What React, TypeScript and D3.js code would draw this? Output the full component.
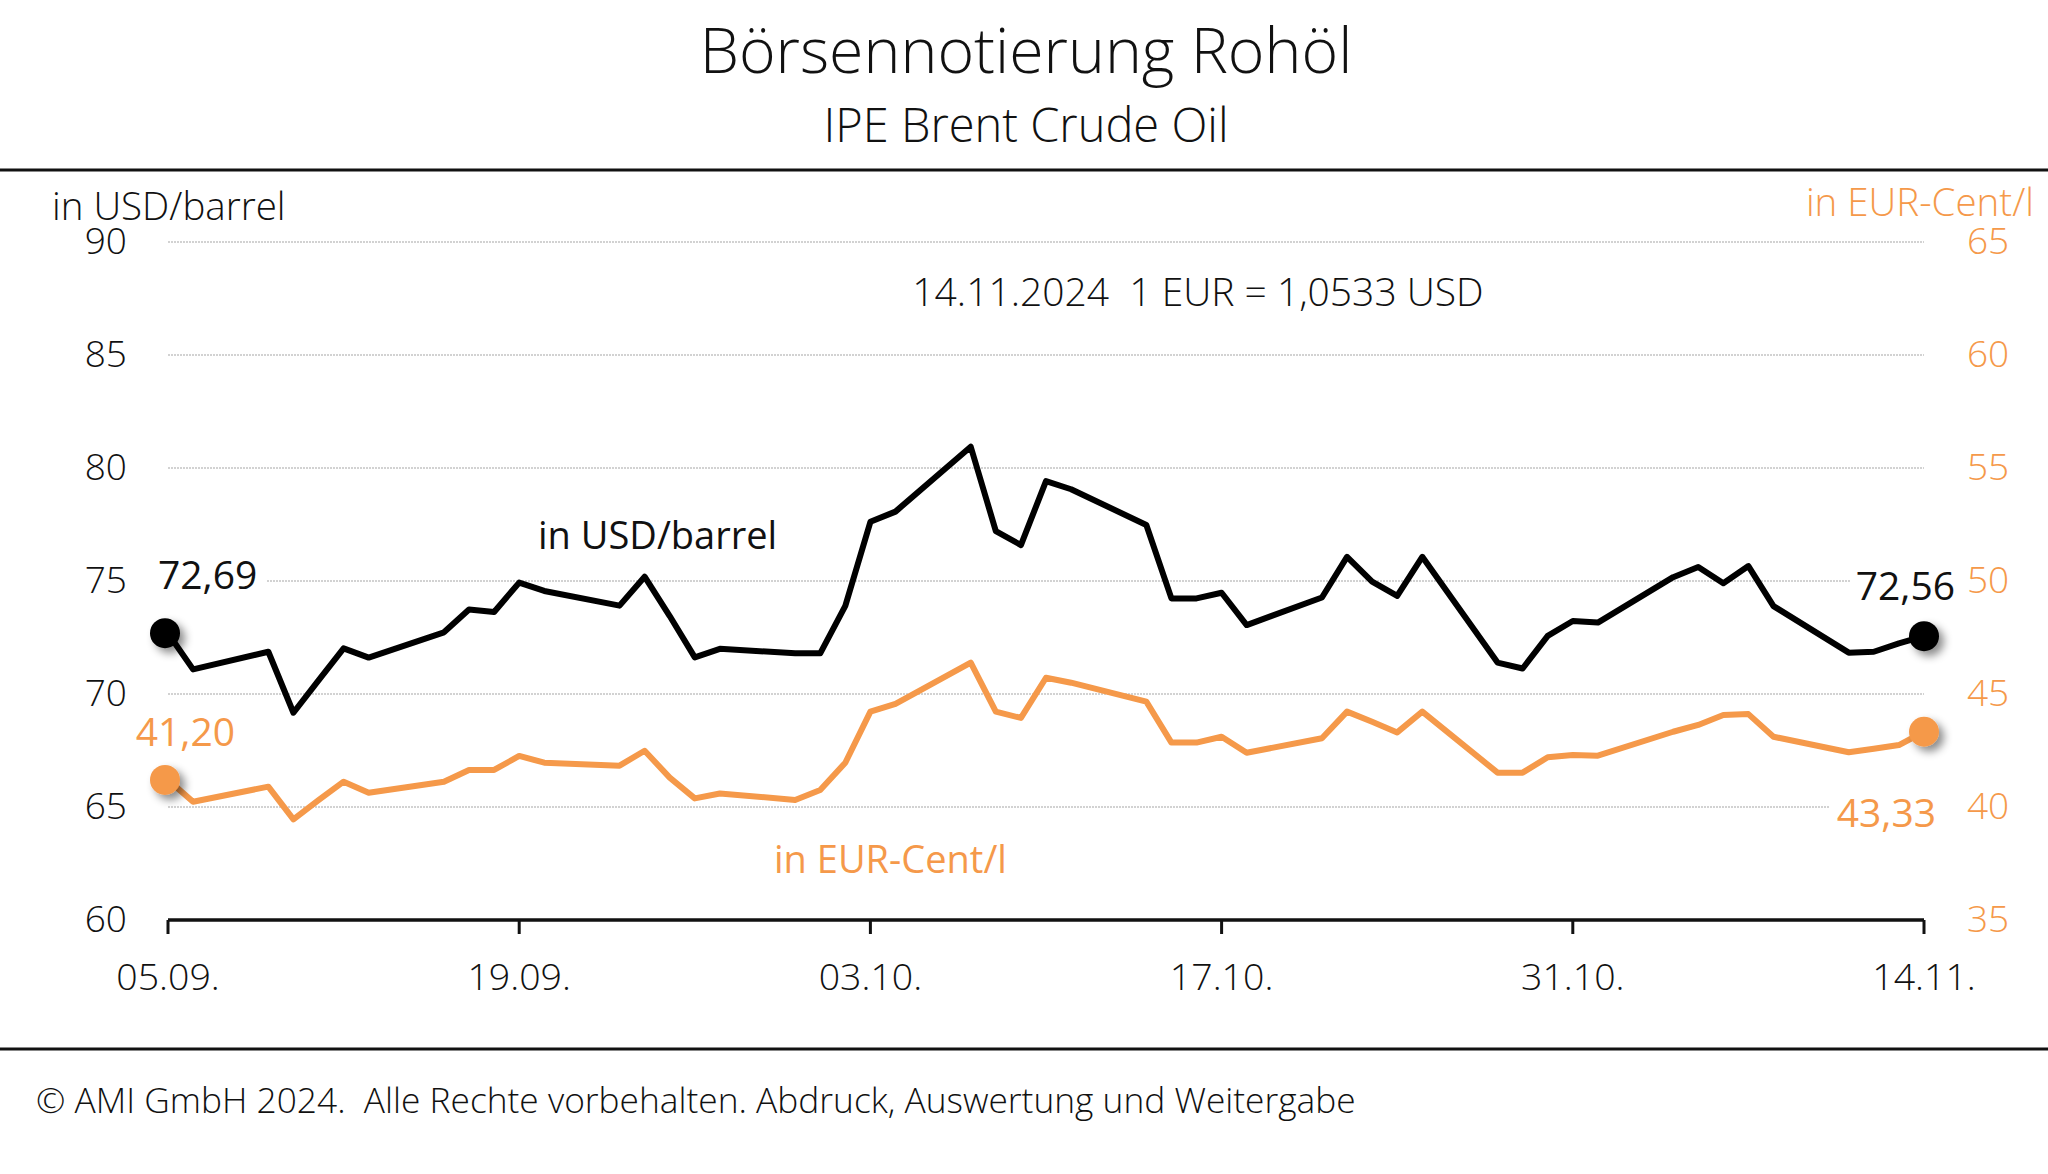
import React from "react";
import * as d3 from "d3";

const dates: string[] = [
  "2024-09-05","2024-09-06","2024-09-09","2024-09-10","2024-09-11","2024-09-12","2024-09-13",
  "2024-09-16","2024-09-17","2024-09-18","2024-09-19","2024-09-20",
  "2024-09-23","2024-09-24","2024-09-25","2024-09-26","2024-09-27",
  "2024-09-30","2024-10-01","2024-10-02","2024-10-03","2024-10-04",
  "2024-10-07","2024-10-08","2024-10-09","2024-10-10","2024-10-11",
  "2024-10-14","2024-10-15","2024-10-16","2024-10-17","2024-10-18",
  "2024-10-21","2024-10-22","2024-10-23","2024-10-24","2024-10-25",
  "2024-10-28","2024-10-29","2024-10-30","2024-10-31","2024-11-01",
  "2024-11-04","2024-11-05","2024-11-06","2024-11-07","2024-11-08",
  "2024-11-11","2024-11-12","2024-11-13","2024-11-14",
];

const usdPerBarrel: number[] = [
  72.69, 71.09, 71.87, 69.17, 70.6, 72.02, 71.61,
  72.73, 73.74, 73.63, 74.93, 74.56,
  73.91, 75.19, 73.45, 71.62, 72.0,
  71.8, 71.8, 73.9, 77.62, 78.07,
  80.94, 77.21, 76.59, 79.42, 79.06,
  77.48, 74.23, 74.23, 74.48, 73.05,
  74.27, 76.07, 74.97, 74.34, 76.07,
  71.39, 71.13, 72.57, 73.23, 73.16,
  75.17, 75.62, 74.9, 75.66, 73.89,
  71.83, 71.87, 72.24, 72.56,
];

const eurCentPerLitre: number[] = [
  41.2, 40.23, 40.9, 39.45, 40.3, 41.12, 40.63,
  41.12, 41.64, 41.64, 42.26, 41.96,
  41.83, 42.49, 41.3, 40.38, 40.6,
  40.31, 40.75, 41.96, 44.22, 44.56,
  46.39, 44.22, 43.94, 45.72, 45.5,
  44.66, 42.85, 42.85, 43.11, 42.4,
  43.04, 44.22, 43.77, 43.3, 44.22,
  41.52, 41.52, 42.2, 42.3, 42.27,
  43.33, 43.63, 44.07, 44.11, 43.11,
  42.42, 42.58, 42.74, 43.33,
];

const xTickDates: string[] = ["2024-09-05", "2024-09-19", "2024-10-03", "2024-10-17", "2024-10-31", "2024-11-14"];
const leftTicks: number[] = [60, 65, 70, 75, 80, 85, 90];
const rightTicks: number[] = [35, 40, 45, 50, 55, 60, 65];

const title = "Börsennotierung Rohöl";
const subtitle = "IPE Brent Crude Oil";
const leftUnit = "in USD/barrel";
const rightUnit = "in EUR-Cent/l";
const rateNote = "14.11.2024  1 EUR = 1,0533 USD";
const footer = "© AMI GmbH 2024.  Alle Rechte vorbehalten. Abdruck, Auswertung und Weitergabe";

const ORANGE = "#F5994A";
const FONT = "'Open Sans', sans-serif";

const parse = d3.timeParse("%Y-%m-%d");
const fmtTick = d3.timeFormat("%d.%m.");
const fmtVal = (v: number) => v.toFixed(2).replace(".", ",");

export default function App() {
  const W = 2048, H = 1174;
  const x0 = 168, x1 = 1924, yTop = 242, yBot = 920;
  const x = d3.scaleTime().domain([parse(dates[0])!, parse(dates[dates.length - 1])!]).range([x0, x1]);
  const yL = d3.scaleLinear().domain([60, 90]).range([yBot, yTop]);
  const yR = d3.scaleLinear().domain([35, 65]).range([yBot, yTop]);

  const usdPts = dates.map((d, i) => [x(parse(d)!), yL(usdPerBarrel[i])] as [number, number]);
  const eurPts = dates.map((d, i) => [x(parse(d)!), yR(eurCentPerLitre[i])] as [number, number]);
  const line = d3.line<[number, number]>();

  const n = dates.length - 1;
  const txt = { fontFamily: FONT, fontWeight: 300 } as React.CSSProperties;

  const labelBox = (xx: number, yy: number, w: number, h: number) => (
    <rect x={xx} y={yy} width={w} height={h} fill="#fff" />
  );

  return (
    <svg width={W} height={H} style={{ position: "absolute", left: 0, top: 0, background: "#fff" }}>
      <defs>
        <filter id="sh" x="-50%" y="-50%" width="200%" height="200%">
          <feDropShadow dx="5" dy="5" stdDeviation="4" floodColor="#000" floodOpacity="0.45" />
        </filter>
      </defs>
      <rect width={W} height={H} fill="#fff" />
      <text x={1026} y={73} textAnchor="middle" fontSize={62.6} style={txt} fill="#111">{title}</text>
      <text x={1026} y={142} textAnchor="middle" fontSize={47} style={txt} fill="#111">{subtitle}</text>
      <rect x={0} y={168.5} width={W} height={3} fill="#111" />
      <rect x={0} y={1047.5} width={W} height={3} fill="#111" />

      {leftTicks.slice(1).map((t) => (
        <line key={"g" + t} x1={x0} x2={x1} y1={yL(t)} y2={yL(t)} stroke="#c4c4c4" strokeWidth={1.5} strokeDasharray="2 1" />
      ))}
      {leftTicks.map((t) => (
        <text key={"l" + t} x={127} y={yL(t) + 12} textAnchor="end" fontSize={37} style={txt} fill="#111">{t}</text>
      ))}
      {rightTicks.map((t) => (
        <text key={"r" + t} x={1967} y={yR(t) + 12} textAnchor="start" fontSize={37} style={txt} fill={ORANGE}>{t}</text>
      ))}
      <text x={52} y={220} fontSize={38.5} style={txt} fill="#111">{leftUnit}</text>
      <text x={2034} y={216} textAnchor="end" fontSize={38.5} style={txt} fill={ORANGE}>{rightUnit}</text>
      <text x={1198} y={306} textAnchor="middle" fontSize={39} style={{ ...txt, whiteSpace: "pre" }} fill="#111">{rateNote}</text>

      <line x1={x0} x2={x1} y1={yBot} y2={yBot} stroke="#111" strokeWidth={3.5} />
      {xTickDates.map((d) => {
        const xx = x(parse(d)!);
        return (
          <g key={d}>
            <line x1={xx} x2={xx} y1={yBot} y2={yBot + 14} stroke="#111" strokeWidth={3} />
            <text x={xx} y={990} textAnchor="middle" fontSize={37.5} style={txt} fill="#111">{fmtTick(parse(d)!)}</text>
          </g>
        );
      })}

      {labelBox(150, 555, 116, 46)}
      {labelBox(1850, 566, 114, 46)}
      {labelBox(1830, 793, 114, 46)}

      <path d={line(eurPts)!} fill="none" stroke={ORANGE} strokeWidth={6} strokeLinejoin="round" />
      <path d={line(usdPts)!} fill="none" stroke="#000" strokeWidth={6} strokeLinejoin="round" />

      <circle cx={usdPts[0][0] - 3} cy={usdPts[0][1]} r={15} fill="#000" filter="url(#sh)" />
      <circle cx={usdPts[n][0]} cy={usdPts[n][1]} r={15} fill="#000" filter="url(#sh)" />
      <circle cx={eurPts[0][0] - 3} cy={eurPts[0][1]} r={15} fill={ORANGE} filter="url(#sh)" />
      <circle cx={eurPts[n][0]} cy={eurPts[n][1]} r={15} fill={ORANGE} filter="url(#sh)" />

      <text x={158} y={589} fontSize={39} style={{ ...txt, fontWeight: 400 }} fill="#111">{fmtVal(usdPerBarrel[0])}</text>
      <text x={235} y={746} textAnchor="end" fontSize={39} style={{ ...txt, fontWeight: 400 }} fill={ORANGE}>{fmtVal(eurCentPerLitre[0])}</text>
      <text x={1955} y={600} textAnchor="end" fontSize={39} style={{ ...txt, fontWeight: 400 }} fill="#111">{fmtVal(usdPerBarrel[n])}</text>
      <text x={1936} y={827} textAnchor="end" fontSize={39} style={{ ...txt, fontWeight: 400 }} fill={ORANGE}>{fmtVal(eurCentPerLitre[n])}</text>

      <text x={538} y={549} fontSize={38} style={{ ...txt, fontWeight: 400 }} fill="#111">{leftUnit}</text>
      <text x={774} y={873} fontSize={38} style={{ ...txt, fontWeight: 400 }} fill={ORANGE}>{rightUnit}</text>

      <text x={36} y={1113} fontSize={35.3} style={{ ...txt, whiteSpace: "pre" }} fill="#111">{footer}</text>
    </svg>
  );
}
